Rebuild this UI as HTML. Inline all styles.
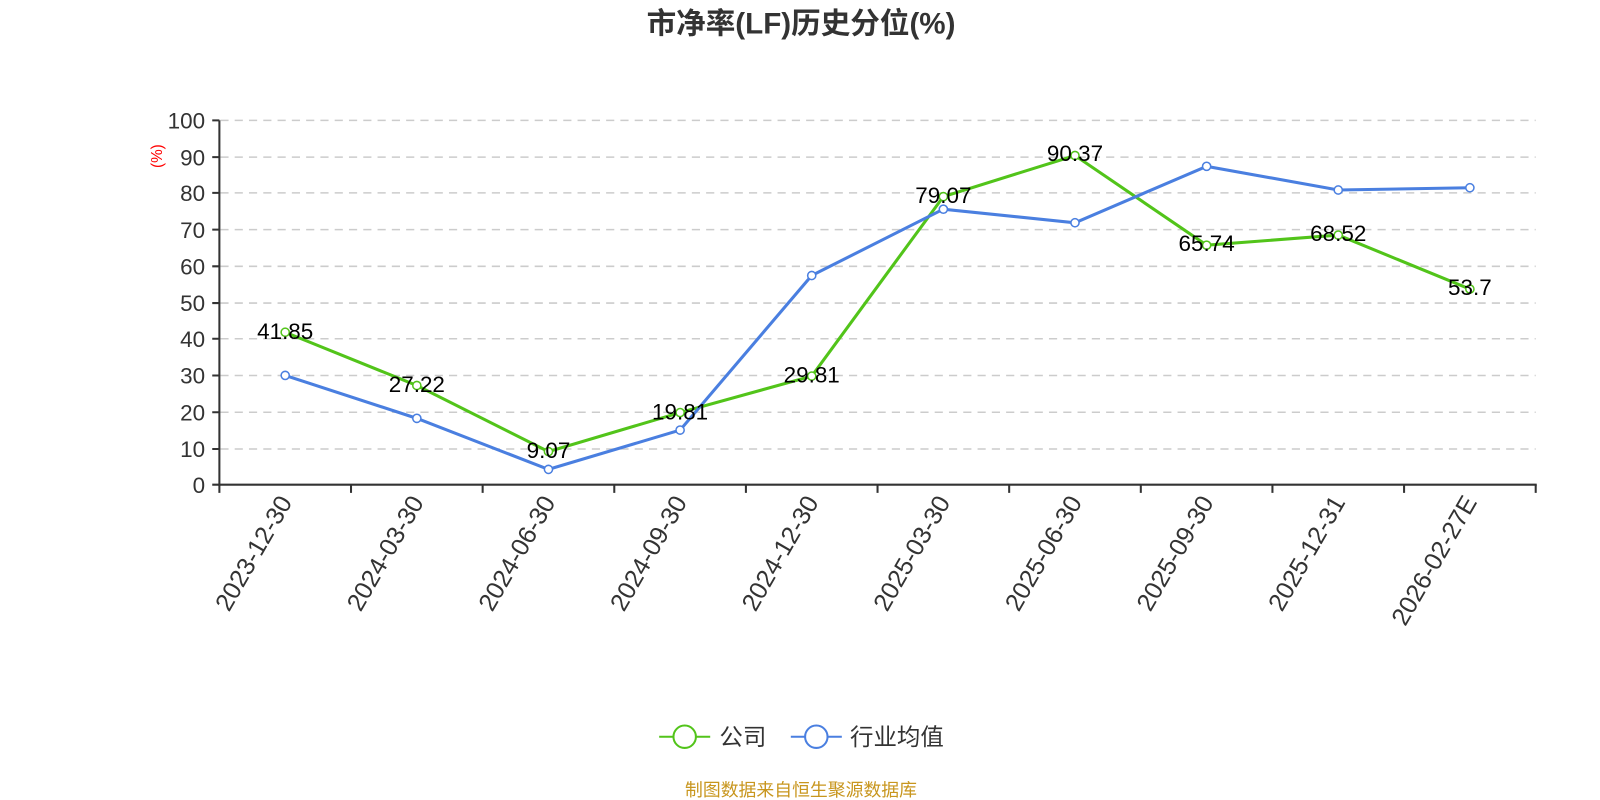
<!DOCTYPE html>
<html><head><meta charset="utf-8"><style>body{margin:0;background:#fff}svg{display:block}</style></head><body>
<svg width="1600" height="800" xmlns="http://www.w3.org/2000/svg" font-family="Liberation Sans, Noto Sans CJK SC, sans-serif">
<g transform="scale(1.0204)">
<text x="785" y="33" text-anchor="middle" font-size="29" font-weight="bold" fill="#333">市净率(LF)历史分位(%)</text>
<g stroke="#ccc" stroke-width="1.5" stroke-dasharray="8,6">
<line x1="216" x2="1505" y1="118" y2="118"/><line x1="216" x2="1505" y1="154" y2="154"/><line x1="216" x2="1505" y1="189" y2="189"/><line x1="216" x2="1505" y1="225" y2="225"/><line x1="216" x2="1505" y1="261" y2="261"/><line x1="216" x2="1505" y1="297" y2="297"/><line x1="216" x2="1505" y1="332" y2="332"/><line x1="216" x2="1505" y1="368" y2="368"/><line x1="216" x2="1505" y1="404" y2="404"/><line x1="216" x2="1505" y1="440" y2="440"/>
</g>
<g stroke="#333" stroke-width="2">
<line x1="215" y1="118" x2="215" y2="476"/><line x1="214" y1="475" x2="1506" y2="475"/>
<path d="M208 118h7M208 154h7M208 189h7M208 225h7M208 261h7M208 297h7M208 332h7M208 368h7M208 404h7M208 440h7M208 475h7"/>
<path d="M215 475v8M344 475v8M473 475v8M602 475v8M731 475v8M860 475v8M989 475v8M1118 475v8M1247 475v8M1376 475v8M1505 475v8"/>
</g>
<g font-size="22" fill="#333" text-anchor="end">
<text x="201" y="126">100</text><text x="201" y="162">90</text><text x="201" y="197">80</text><text x="201" y="233">70</text><text x="201" y="269">60</text><text x="201" y="305">50</text><text x="201" y="340">40</text><text x="201" y="376">30</text><text x="201" y="412">20</text><text x="201" y="448">10</text><text x="201" y="483">0</text>
</g>
<text transform="translate(159,153) rotate(-90)" text-anchor="middle" font-size="15" fill="red">(%)</text>
<g font-size="24.5" fill="#333" text-anchor="end">
<text transform="translate(287,492) rotate(-60)">2023-12-30</text>
<text transform="translate(416,492) rotate(-60)">2024-03-30</text>
<text transform="translate(545,492) rotate(-60)">2024-06-30</text>
<text transform="translate(674,492) rotate(-60)">2024-09-30</text>
<text transform="translate(803,492) rotate(-60)">2024-12-30</text>
<text transform="translate(932,492) rotate(-60)">2025-03-30</text>
<text transform="translate(1061,492) rotate(-60)">2025-06-30</text>
<text transform="translate(1190,492) rotate(-60)">2025-09-30</text>
<text transform="translate(1319,492) rotate(-60)">2025-12-31</text>
<text transform="translate(1448,492) rotate(-60)">2026-02-27E</text>
</g>
<polyline fill="none" stroke="#52c41a" stroke-width="3" points="279.5,325.6 408.5,377.8 537.5,442.6 666.5,404.3 795.5,368.6 924.5,192.7 1053.5,152.4 1182.5,240.3 1311.5,230.4 1440.5,283.3"/>
<polyline fill="none" stroke="#4a7fe0" stroke-width="3" points="279.5,367.9 408.5,410 537.5,460 666.5,421.5 795.5,270 924.5,205 1053.5,218.3 1182.5,163 1311.5,186.2 1440.5,184"/>
<g fill="#fff" stroke="#52c41a" stroke-width="1.5">
<circle cx="279.5" cy="325.6" r="4"/><circle cx="408.5" cy="377.8" r="4"/><circle cx="537.5" cy="442.6" r="4"/><circle cx="666.5" cy="404.3" r="4"/><circle cx="795.5" cy="368.6" r="4"/><circle cx="924.5" cy="192.7" r="4"/><circle cx="1053.5" cy="152.4" r="4"/><circle cx="1182.5" cy="240.3" r="4"/><circle cx="1311.5" cy="230.4" r="4"/><circle cx="1440.5" cy="283.3" r="4"/>
</g>
<g fill="#fff" stroke="#4a7fe0" stroke-width="1.5">
<circle cx="279.5" cy="367.9" r="4"/><circle cx="408.5" cy="410" r="4"/><circle cx="537.5" cy="460" r="4"/><circle cx="666.5" cy="421.5" r="4"/><circle cx="795.5" cy="270" r="4"/><circle cx="924.5" cy="205" r="4"/><circle cx="1053.5" cy="218.3" r="4"/><circle cx="1182.5" cy="163" r="4"/><circle cx="1311.5" cy="186.2" r="4"/><circle cx="1440.5" cy="184" r="4"/>
</g>
<g font-size="22" fill="#000" text-anchor="middle">
<text x="279.5" y="332">41.85</text><text x="408.5" y="384">27.22</text><text x="537.5" y="449">9.07</text><text x="666.5" y="411">19.81</text><text x="795.5" y="375">29.81</text><text x="924.5" y="199">79.07</text><text x="1053.5" y="158">90.37</text><text x="1182.5" y="246">65.74</text><text x="1311.5" y="236">68.52</text><text x="1440.5" y="289">53.7</text>
</g>
<line x1="646" x2="696" y1="722" y2="722" stroke="#52c41a" stroke-width="2"/><circle cx="671" cy="722" r="11" fill="#fff" stroke="#52c41a" stroke-width="2"/>
<text x="705" y="730" font-size="23" fill="#333">公司</text>
<line x1="775" x2="825" y1="722" y2="722" stroke="#4a7fe0" stroke-width="2"/><circle cx="800" cy="722" r="11" fill="#fff" stroke="#4a7fe0" stroke-width="2"/>
<text x="833" y="730" font-size="23" fill="#333">行业均值</text>
<text x="785" y="780" text-anchor="middle" font-size="17.5" fill="#c8961e">制图数据来自恒生聚源数据库</text>
</g>
</svg>
</body></html>
